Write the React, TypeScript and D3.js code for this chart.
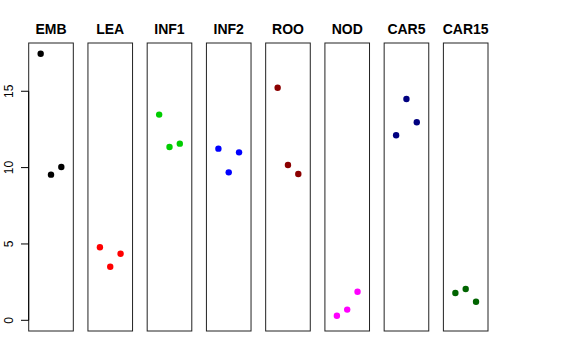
import React from "react";
import * as d3 from "d3";

const categories = ["EMB", "LEA", "INF1", "INF2", "ROO", "NOD", "CAR5", "CAR15"];
const colors = ["#000000", "#FF0000", "#00CD00", "#0000FF", "#8B0000", "#FF00FF", "#000080", "#006400"];
const rep1 = [17.46, 4.78, 13.47, 11.24, 15.23, 0.3, 12.12, 1.79];
const rep2 = [9.54, 3.51, 11.35, 9.69, 10.17, 0.7, 14.49, 2.05];
const rep3 = [10.04, 4.36, 11.57, 11.0, 9.58, 1.87, 12.97, 1.22];
const yTicks = [0, 5, 10, 15];

export default function App() {
  const W = 576, H = 360;
  const panels = d3.scaleBand<string>().domain(categories).range([28.7, 488]).paddingInner(0.247).paddingOuter(0);
  const y = d3.scaleLinear().domain([-0.7, 18.16]).range([331, 43]);
  const bw = panels.bandwidth();
  const font = "'Liberation Sans', Arial, Helvetica, sans-serif";
  return (
    <svg width={W} height={H} style={{ position: "absolute", left: 0, top: 0, background: "#fff" }} fontFamily={font}>
      {categories.map((c, i) => {
        const x0 = panels(c)!;
        const xs = d3.scaleLinear().domain([-0.16, 4.16]).range([x0, x0 + bw]);
        const vals = [rep1[i], rep2[i], rep3[i]];
        return (
          <g key={c}>
            <rect x={x0} y={43} width={bw} height={331 - 43} fill="none" stroke="#222" strokeWidth={1} />
            <text x={x0 + bw / 2} y={34} textAnchor="middle" fontWeight="bold" fontSize={14}>{c}</text>
            {vals.map((v, j) => (
              <circle key={j} cx={xs(j + 1)} cy={y(v)} r={3.2} fill={colors[i]} />
            ))}
          </g>
        );
      })}
      <g>
        <line x1={panels(categories[0])!} x2={panels(categories[0])!} y1={y(0)} y2={y(15)} stroke="#000" />
        {yTicks.map((t) => (
          <g key={t}>
            <line x1={21} x2={panels(categories[0])!} y1={y(t)} y2={y(t)} stroke="#000" />
            <text transform={`translate(12.5,${y(t)}) rotate(-90)`} textAnchor="middle" fontSize={12}>{t}</text>
          </g>
        ))}
      </g>
    </svg>
  );
}
